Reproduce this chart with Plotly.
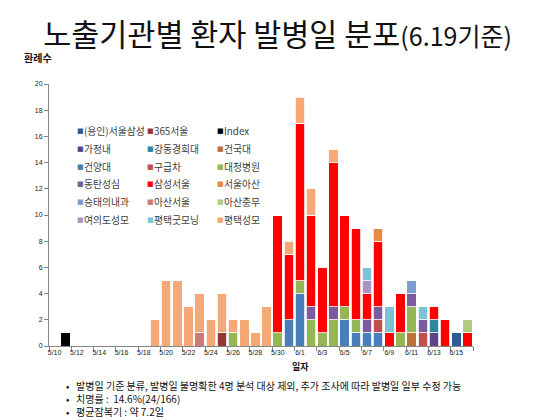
import plotly.graph_objects as go

# onset dates (category axis)
dates = ["5/10", "5/11", "5/12", "5/13", "5/14", "5/15", "5/16", "5/17", "5/18", "5/19",
         "5/20", "5/21", "5/22", "5/23", "5/24", "5/25", "5/26", "5/27", "5/28", "5/29",
         "5/30", "5/31", "6/1", "6/2", "6/3", "6/4", "6/5", "6/6", "6/7", "6/8",
         "6/9", "6/10", "6/11", "6/12", "6/13", "6/14", "6/15", "6/16"]

# cases per exposure institution, one value per date above
yongin_samsung = [0, 0, 0, 0, 0, 0, 0, 0, 0, 0,  0, 0, 0, 0, 0, 0, 0, 0, 0, 0,  0, 0, 0, 0, 0, 0, 0, 0, 0, 0,  0, 0, 0, 0, 0, 0, 1, 0]
seoul365       = [0, 0, 0, 0, 0, 0, 0, 0, 0, 0,  0, 0, 0, 0, 0, 1, 0, 0, 0, 0,  0, 0, 0, 0, 0, 0, 0, 0, 0, 0,  0, 0, 0, 0, 0, 0, 0, 0]
index_case     = [0, 1, 0, 0, 0, 0, 0, 0, 0, 0,  0, 0, 0, 0, 0, 0, 0, 0, 0, 0,  0, 0, 0, 0, 0, 0, 0, 0, 0, 0,  0, 0, 0, 0, 0, 0, 0, 0]
household      = [0, 0, 0, 0, 0, 0, 0, 0, 0, 0,  0, 0, 0, 0, 0, 0, 0, 0, 0, 0,  0, 0, 0, 0, 0, 0, 0, 0, 0, 0,  0, 0, 0, 0, 1, 0, 0, 0]
gangdong       = [0, 0, 0, 0, 0, 0, 0, 0, 0, 0,  0, 0, 0, 0, 0, 0, 0, 0, 0, 0,  0, 0, 0, 0, 0, 0, 0, 0, 0, 0,  0, 0, 0, 0, 1, 0, 0, 0]
konkuk         = [0, 0, 0, 0, 0, 0, 0, 0, 0, 0,  0, 0, 0, 0, 0, 0, 0, 0, 0, 0,  0, 0, 0, 0, 0, 0, 0, 0, 0, 0,  0, 0, 1, 0, 0, 0, 0, 0]
konyang        = [0, 0, 0, 0, 0, 0, 0, 0, 0, 0,  0, 0, 0, 0, 0, 0, 0, 0, 0, 0,  0, 2, 4, 0, 0, 0, 2, 1, 1, 1,  0, 0, 0, 0, 0, 0, 0, 0]
ambulance      = [0, 0, 0, 0, 0, 0, 0, 0, 0, 0,  0, 0, 0, 0, 0, 0, 0, 0, 0, 0,  0, 0, 0, 0, 0, 0, 0, 0, 0, 1,  0, 0, 0, 1, 0, 0, 0, 0]
daecheong      = [0, 0, 0, 0, 0, 0, 0, 0, 0, 0,  0, 0, 0, 0, 0, 0, 1, 0, 0, 0,  1, 0, 1, 2, 1, 2, 1, 1, 0, 0,  0, 1, 2, 0, 0, 0, 0, 0]
dongtan        = [0, 0, 0, 0, 0, 0, 0, 0, 0, 0,  0, 0, 0, 0, 0, 0, 0, 0, 0, 0,  0, 0, 0, 1, 0, 1, 0, 0, 1, 1,  0, 0, 1, 1, 0, 0, 0, 0]
samsung        = [0, 0, 0, 0, 0, 0, 0, 0, 0, 0,  0, 0, 0, 0, 0, 0, 0, 0, 0, 0,  9, 5, 12, 7, 5, 11, 7, 7, 2, 5,  1, 3, 0, 0, 1, 2, 0, 1]
seoul_asan     = [0, 0, 0, 0, 0, 0, 0, 0, 0, 0,  0, 0, 0, 0, 0, 0, 0, 0, 0, 0,  0, 0, 0, 0, 0, 0, 0, 0, 0, 1,  0, 0, 0, 0, 0, 0, 0, 0]
seungtae       = [0, 0, 0, 0, 0, 0, 0, 0, 0, 0,  0, 0, 0, 0, 0, 0, 0, 0, 0, 0,  0, 0, 0, 0, 0, 0, 0, 0, 0, 0,  0, 0, 1, 0, 0, 0, 0, 0]
asan_seoul     = [0, 0, 0, 0, 0, 0, 0, 0, 0, 0,  0, 0, 0, 1, 0, 0, 0, 0, 0, 0,  0, 0, 0, 0, 0, 0, 0, 0, 0, 0,  0, 0, 0, 0, 0, 0, 0, 0]
asan_chungmu   = [0, 0, 0, 0, 0, 0, 0, 0, 0, 0,  0, 0, 0, 0, 0, 0, 0, 0, 0, 0,  0, 0, 0, 0, 0, 0, 0, 0, 0, 0,  0, 0, 0, 0, 0, 0, 0, 1]
yeouido        = [0, 0, 0, 0, 0, 0, 0, 0, 0, 0,  0, 0, 0, 0, 0, 0, 0, 0, 0, 0,  0, 0, 0, 0, 0, 0, 0, 0, 1, 0,  0, 0, 0, 0, 0, 0, 0, 0]
pt_goodmorning = [0, 0, 0, 0, 0, 0, 0, 0, 0, 0,  0, 0, 0, 0, 0, 0, 0, 0, 0, 0,  0, 0, 0, 0, 0, 0, 0, 0, 1, 0,  2, 0, 0, 1, 0, 0, 0, 0]
pt_stmary      = [0, 0, 0, 0, 0, 0, 0, 0, 0, 2,  5, 5, 3, 3, 2, 3, 1, 2, 1, 3,  0, 1, 2, 2, 0, 1, 0, 0, 0, 0,  0, 0, 0, 0, 0, 0, 0, 0]

names = ["(용인)서울삼성", "365서울", "Index", "가정내", "강동경희대", "건국대",
         "건양대", "구급차", "대청병원", "동탄성심", "삼성서울", "서울아산",
         "승태의내과", "아산서울", "아산충무", "여의도성모", "평택굿모닝", "평택성모"]
values = [yongin_samsung, seoul365, index_case, household, gangdong, konkuk,
          konyang, ambulance, daecheong, dongtan, samsung, seoul_asan,
          seungtae, asan_seoul, asan_chungmu, yeouido, pt_goodmorning, pt_stmary]
colors = ["#2F5C97", "#953735", "#000000", "#5B4585", "#31859C", "#C07236",
          "#4A7EBB", "#C0504D", "#94B655", "#7B5BA0", "#FF0000", "#EA8A40",
          "#7F9DD0", "#CF7A78", "#B2CB83", "#A995C5", "#7DC3D8", "#F6A877"]

FONT = "Noto Sans CJK KR, Liberation Sans, sans-serif"

# the page body has an 8px margin, so the figure starts at (8, 8) in the window
OFF = 8
W, H = 560 - OFF, 420 - OFF
# plot area, window pixels
L, R, T, B = 49, 473, 84, 346


def px(x, y):
    return (x - L) / (R - L), (B - y) / (B - T)


fig = go.Figure()
for nm, v, c in zip(names, values, colors):
    fig.add_trace(go.Bar(
        x=dates, y=v, name=nm, marker_color=c,
        marker_line_color="white", marker_line_width=0.8,
    ))

fig.update_layout(
    width=W, height=H,
    margin=dict(l=L - OFF, r=560 - R, t=T - OFF, b=420 - B),
    paper_bgcolor="white", plot_bgcolor="white",
    barmode="stack", bargap=0.15,
    font=dict(family=FONT, size=8, color="#222"),
    showlegend=False,
    title=dict(
        text="노출기관별 환자 발병일 분포<span style='font-size:25px'>(6.19기준)</span>",
        x=(277.5 - OFF) / W, xref="container", xanchor="center",
        y=1 - (35 - OFF) / H, yref="container", yanchor="middle",
        font=dict(family=FONT, size=30.5, color="#111"),
    ),
    xaxis=dict(
        type="category", tickmode="linear", tick0=0, dtick=2,
        tickson="boundaries", ticks="outside", ticklen=4,
        tickcolor="#868686", showline=True, linecolor="#868686", linewidth=1,
        showgrid=False, tickangle=0,
        tickfont=dict(family="Liberation Sans, sans-serif", size=7, color="#222"),
    ),
    yaxis=dict(
        range=[0, 20], dtick=2, ticks="outside", ticklen=4,
        tickcolor="#868686", showline=True, linecolor="#868686", linewidth=1,
        showgrid=False, zeroline=False,
        tickfont=dict(family="Liberation Sans, sans-serif", size=7, color="#222"),
    ),
)

# legend drawn as a 3-column grid of colour keys and names
leg_cols = [75, 145, 215]
leg_rows = [131, 149, 167, 184, 202, 220]
for k, (nm, c) in enumerate(zip(names, colors)):
    cx = leg_cols[k % 3]
    cy = leg_rows[k // 3]
    ax, ay = px(cx, cy)
    fig.add_annotation(text="■", x=ax, y=ay, xref="paper", yref="paper",
                       xanchor="left", yanchor="middle", showarrow=False,
                       font=dict(family="DejaVu Sans, sans-serif", size=7, color=c))
    ax, ay = px(cx + 7, cy)
    fig.add_annotation(text=nm, x=ax, y=ay, xref="paper", yref="paper",
                       xanchor="left", yanchor="middle", showarrow=False,
                       font=dict(family=FONT, size=9.8, color="#404040"))

notes = [
    ("<b>환례수</b>", 22, 58, 10),
    ("<b>일자</b>", 290, 366, 9),
]
for txt, nx, ny, sz in notes:
    ax, ay = px(nx, ny)
    fig.add_annotation(text=txt, x=ax, y=ay, xref="paper", yref="paper",
                       xanchor="left", yanchor="middle", showarrow=False,
                       font=dict(family=FONT, size=sz, color="#111"))

footnote = ("•&nbsp;&nbsp;&nbsp;발병일 기준 분류, 발병일 불명확한 4명 분석 대상 제외, 추가 조사에 따라 발병일 일부 수정 가능<br>"
            "•&nbsp;&nbsp;&nbsp;치명률 :  14.6%(24/166)<br>"
            "•&nbsp;&nbsp;&nbsp;평균잠복기 : 약 7.2일")
ax, ay = px(64, 376)
fig.add_annotation(text=footnote, x=ax, y=ay, xref="paper", yref="paper",
                   xanchor="left", yanchor="top", align="left", showarrow=False,
                   font=dict(family=FONT, size=10, color="#111"))

fig.write_html("out.html")
